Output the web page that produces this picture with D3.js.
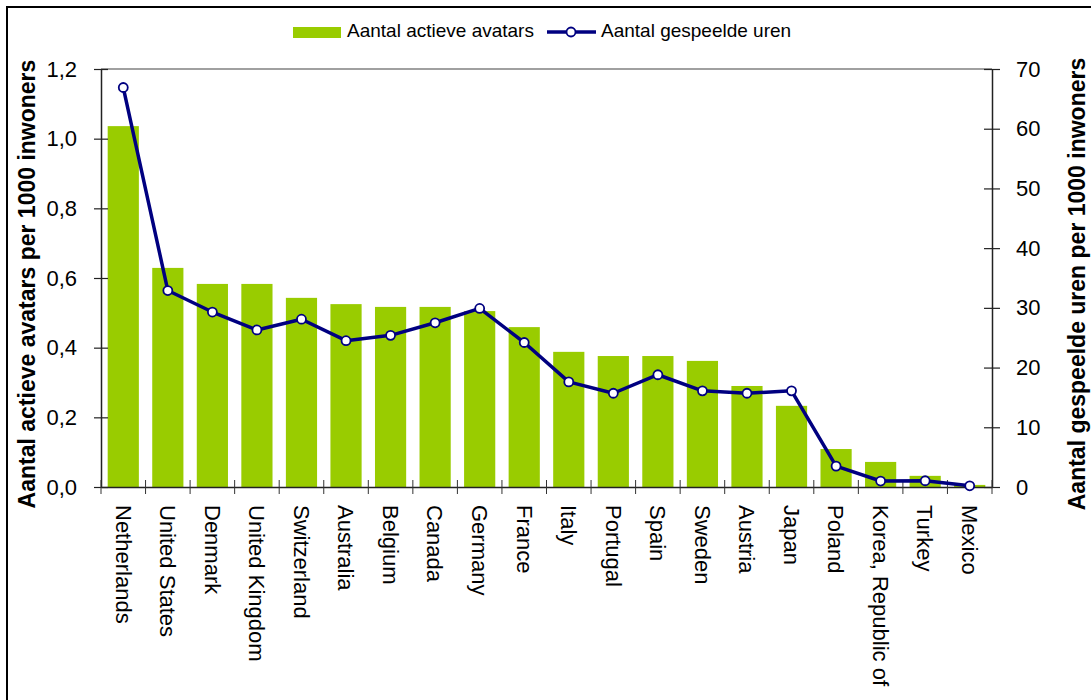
<!DOCTYPE html>
<html>
<head>
<meta charset="utf-8">
<script src="https://cdn.jsdelivr.net/npm/d3@7"></script>
<style>
  body { margin: 0; background: #fff; }
  text { font-family: "Liberation Sans", Arial, sans-serif; fill: #000; }
</style>
</head>
<body>
<script>
// data
var landen = ["Netherlands", "United States", "Denmark", "United Kingdom", "Switzerland",
  "Australia", "Belgium", "Canada", "Germany", "France", "Italy", "Portugal", "Spain",
  "Sweden", "Austria", "Japan", "Poland", "Korea, Republic of", "Turkey", "Mexico"];
var avatars = [1.036, 0.629, 0.583, 0.583, 0.543, 0.525, 0.517, 0.517, 0.505, 0.459,
  0.388, 0.376, 0.376, 0.362, 0.290, 0.233, 0.109, 0.072, 0.032, 0.006];
var uren = [66.9, 32.9, 29.3, 26.3, 28.1, 24.5, 25.4, 27.5, 29.9, 24.2,
  17.6, 15.7, 18.8, 16.1, 15.7, 16.1, 3.5, 1.0, 1.05, 0.2];
var linksTicks = [0, 0.2, 0.4, 0.6, 0.8, 1.0, 1.2];
var rechtsTicks = [0, 10, 20, 30, 40, 50, 60, 70];

var totalWidth = 1091;
var totalHeight = 700;
var plot = {left: 101, right: 992, top: 69, bottom: 487};

var svg = d3.select("body")
    .append("svg")
    .attr("width", totalWidth)
    .attr("height", totalHeight);

// kader om de hele grafiek
svg.append("rect")
   .attr("x", 7).attr("y", 7)
   .attr("width", totalWidth + 10).attr("height", totalHeight + 10)
   .attr("fill", "none")
   .attr("stroke", "#000")
   .attr("stroke-width", 2);

var x = d3.scaleBand()
          .domain(landen)
          .range([plot.left, plot.right]);

var yL = d3.scaleLinear().domain([0, 1.2]).range([plot.bottom, plot.top]);
var yR = d3.scaleLinear().domain([0, 70]).range([plot.bottom, plot.top]);

// bovenrand van het plotgebied
svg.append("line")
   .attr("x1", plot.left).attr("x2", plot.right)
   .attr("y1", plot.top).attr("y2", plot.top)
   .attr("stroke", "#808080")
   .attr("stroke-width", 1.5);

// staven
var barW = x.bandwidth() * 0.7;
svg.selectAll("rect.staaf")
   .data(avatars)
   .enter()
   .append("rect")
   .attr("class", "staaf")
   .attr("x", (d, i) => x(landen[i]) + (x.bandwidth() - barW) / 2)
   .attr("y", d => yL(d))
   .attr("width", barW)
   .attr("height", d => yL(0) - yL(d))
   .attr("fill", "#99cc00");

// assen
var asLinks = svg.append("g")
    .attr("transform", "translate(" + plot.left + ",0)")
    .call(d3.axisLeft(yL).tickValues(linksTicks).tickSizeOuter(0).tickPadding(18)
      .tickFormat(d => d3.format(".1f")(d).replace(".", ",")));
asLinks.selectAll(".tick line").attr("x1", -7).attr("x2", 7);

var asRechts = svg.append("g")
    .attr("transform", "translate(" + plot.right + ",0)")
    .call(d3.axisRight(yR).tickValues(rechtsTicks).tickSizeOuter(0).tickPadding(18));
asRechts.selectAll(".tick line").attr("x1", -8).attr("x2", 8);

var asOnder = svg.append("g")
    .attr("transform", "translate(0," + plot.bottom + ")")
    .call(d3.axisBottom(x).tickSize(0).tickSizeOuter(0).tickPadding(0));
asOnder.selectAll(".tick text")
    .attr("transform", "translate(0,18) rotate(90)")
    .attr("text-anchor", "start")
    .attr("x", 0).attr("y", 0)
    .attr("dy", "0.35em");

// streepjes tussen de landen
svg.selectAll("line.xtick")
   .data(landen.concat(["einde"]))
   .enter()
   .append("line")
   .attr("class", "xtick")
   .attr("x1", (d, i) => plot.left + i * x.step())
   .attr("x2", (d, i) => plot.left + i * x.step())
   .attr("y1", plot.bottom - 7)
   .attr("y2", plot.bottom + 7)
   .attr("stroke", "#333");

[asLinks, asRechts, asOnder].forEach(function(a) {
  a.select(".domain").attr("stroke", "#222").attr("stroke-width", 1.5);
  a.selectAll(".tick line").attr("stroke", "#222").attr("stroke-width", 1.2);
  a.selectAll("text").style("font-size", "22px").attr("fill", "#000");
});

// lijn met uren
var lijn = d3.line()
             .x((d, i) => x(landen[i]) + x.bandwidth() / 2)
             .y(d => yR(d));

svg.append("path")
   .datum(uren)
   .attr("d", lijn)
   .attr("fill", "none")
   .attr("stroke", "#000080")
   .attr("stroke-width", 3.5)
   .attr("stroke-linejoin", "round");

svg.selectAll("circle.punt")
   .data(uren)
   .enter()
   .append("circle")
   .attr("class", "punt")
   .attr("cx", (d, i) => x(landen[i]) + x.bandwidth() / 2)
   .attr("cy", d => yR(d))
   .attr("r", 4.5)
   .attr("fill", "#fff")
   .attr("stroke", "#000080")
   .attr("stroke-width", 1.8);

// astitels
svg.append("text")
   .attr("transform", "translate(35,284) rotate(-90)")
   .attr("text-anchor", "middle")
   .style("font-size", "23px")
   .style("font-weight", "bold")
   .text("Aantal actieve avatars per 1000 inwoners");

svg.append("text")
   .attr("transform", "translate(1085,284) rotate(-90)")
   .attr("text-anchor", "middle")
   .style("font-size", "23px")
   .style("font-weight", "bold")
   .text("Aantal gespeelde uren per 1000 inwoners");

// legenda
var legenda = svg.append("g");
legenda.append("rect")
   .attr("x", 293).attr("y", 27)
   .attr("width", 48).attr("height", 11)
   .attr("fill", "#99cc00");
legenda.append("text")
   .attr("x", 347).attr("y", 37)
   .style("font-size", "19px")
   .text("Aantal actieve avatars");
legenda.append("line")
   .attr("x1", 547).attr("x2", 596)
   .attr("y1", 32).attr("y2", 32)
   .attr("stroke", "#000080")
   .attr("stroke-width", 3.5);
legenda.append("circle")
   .attr("cx", 571).attr("cy", 32).attr("r", 4.5)
   .attr("fill", "#fff")
   .attr("stroke", "#000080")
   .attr("stroke-width", 1.8);
legenda.append("text")
   .attr("x", 601).attr("y", 37)
   .style("font-size", "19px")
   .text("Aantal gespeelde uren");
</script>
</body>
</html>
